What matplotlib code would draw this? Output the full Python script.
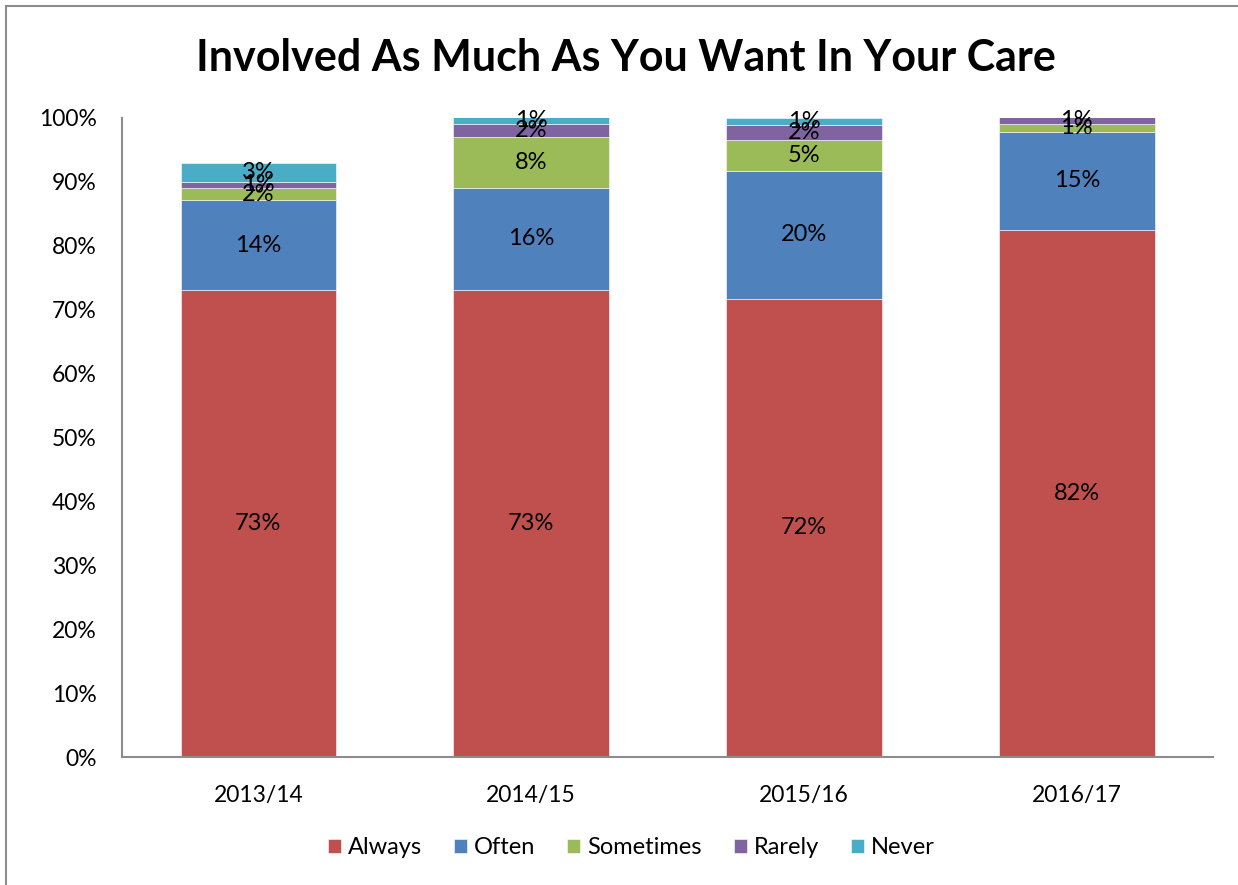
import matplotlib.pyplot as plt
from matplotlib.patches import Rectangle
from matplotlib.ticker import PercentFormatter

plt.rcParams["font.family"] = ["Lato", "DejaVu Sans"]

YEARS = ["2013/14", "2014/15", "2015/16", "2016/17"]
SERIES = ["Always", "Often", "Sometimes", "Rarely", "Never"]
ALWAYS = [73.1, 73.1, 71.7, 82.5]
OFTEN = [14.0, 16.0, 20.0, 15.3]
SOMETIMES = [2.0, 8.0, 4.9, 1.3]
RARELY = [0.9, 1.9, 2.3, 1.0]
NEVER = [3.0, 1.1, 1.1, 0.0]
COLORS = ["#C0504D", "#4F81BD", "#9BBB59", "#8064A2", "#4BACC6"]
TITLE = "Involved As Much As You Want In Your Care"


def main():
    fig = plt.figure(figsize=(12.38, 8.85), dpi=100)
    ax = fig.add_axes([0.0985, 0.1446, 0.8815, 0.7221])

    # grey frame round the whole chart, as in the spreadsheet export
    fig.patches.append(Rectangle((0.005, -0.01), 1.1, 1.003, transform=fig.transFigure,
                                 fill=False, edgecolor="#8c8c8c", linewidth=1.5))

    x = list(range(len(YEARS)))
    bottom = [0.0] * len(YEARS)
    handles = []
    for name, values, color in zip(SERIES, [ALWAYS, OFTEN, SOMETIMES, RARELY, NEVER], COLORS):
        bars = ax.bar(x, values, width=0.57, bottom=bottom, color=color,
                      edgecolor="white", linewidth=0.4, label=name)
        handles.append(bars)
        for xi, v, b in zip(x, values, bottom):
            if v > 0:
                ax.text(xi, b + v / 2, f"{v:.0f}%", ha="center", va="center",
                        fontsize=17, color="black")
        bottom = [b + v for b, v in zip(bottom, values)]

    ax.set_xlim(-0.5, len(YEARS) - 0.5)
    ax.set_ylim(0, 100)
    ax.set_yticks(range(0, 101, 10))
    ax.yaxis.set_major_formatter(PercentFormatter(decimals=0))
    ax.set_xticks(x)
    ax.set_xticklabels(YEARS)
    ax.tick_params(axis="both", length=0, labelsize=16.5)
    ax.tick_params(axis="x", pad=20)
    ax.tick_params(axis="y", pad=18)
    for side in ["top", "right"]:
        ax.spines[side].set_visible(False)
    for side in ["left", "bottom"]:
        ax.spines[side].set_color("#8c8c8c")
        ax.spines[side].set_linewidth(1.5)

    fig.text(0.506, 0.934, TITLE, ha="center", va="center", fontsize=31,
             fontweight="bold")
    fig.legend(handles=handles, loc="center", bbox_to_anchor=(0.51, 0.042), ncol=5,
               frameon=False, fontsize=17, handlelength=0.55, handleheight=0.55,
               handletextpad=0.3, columnspacing=1.35)

    fig.savefig("out.png", dpi=100)


if __name__ == "__main__":
    main()
